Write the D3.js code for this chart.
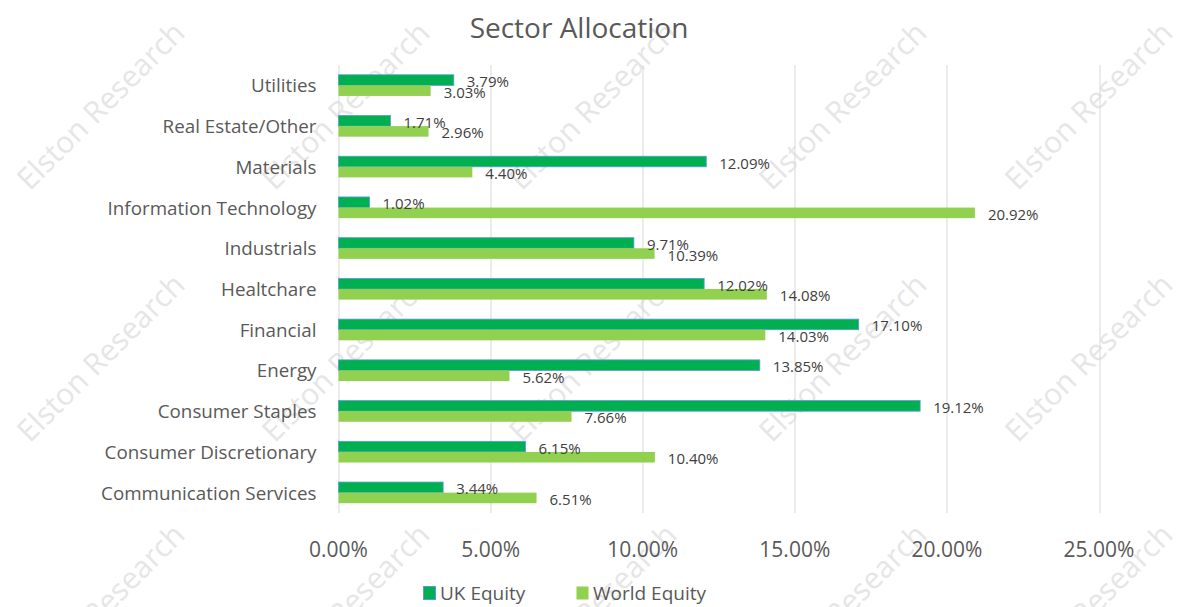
<!DOCTYPE html>
<html>
<head>
<meta charset="utf-8">
<script src="https://cdn.jsdelivr.net/npm/d3@7"></script>
<style>
  html, body { margin: 0; padding: 0; background: #fff; }
  svg { display: block; font-family: "Open Sans", "Noto Sans", sans-serif; }
</style>
</head>
<body>
<svg id="chart" width="1182" height="607"></svg>
<script>
// --- Data (top to bottom as shown) ---
const sectors = [
  "Utilities", "Real Estate/Other", "Materials", "Information Technology",
  "Industrials", "Healtchare", "Financial", "Energy", "Consumer Staples",
  "Consumer Discretionary", "Communication Services"
];
const ukEquity    = [3.79, 1.71, 12.09, 1.02, 9.71, 12.02, 17.10, 13.85, 19.12, 6.15, 3.44];
const worldEquity = [3.03, 2.96, 4.40, 20.92, 10.39, 14.08, 14.03, 5.62, 7.66, 10.40, 6.51];
const seriesNames = ["UK Equity", "World Equity"];
const xTicks = [0, 5, 10, 15, 20, 25];

const colors = { "UK Equity": "#00b050", "World Equity": "#92d050" };

const W = 1182, H = 607;
const margin = { top: 65, right: 83, bottom: 94, left: 338.5 };
const innerW = W - margin.left - margin.right;
const innerH = H - margin.top - margin.bottom;

const svg = d3.select("#chart");

// --- Watermark ---
const wmCols = [100, 345, 592, 842, 1088];
const wmRows = [105, 357, 607];
const wm = svg.append("g").attr("class", "watermark");
wmRows.forEach((cy) => {
  wmCols.forEach((cx) => {
    wm.append("text")
      .attr("transform", `translate(${cx},${cy}) rotate(-45)`)
      .attr("text-anchor", "middle")
      .attr("dominant-baseline", "central")
      .attr("font-size", "30px")
      .attr("fill", "#e6e6e6")
      .text("Elston Research");
  });
});

const g = svg.append("g").attr("transform", `translate(${margin.left},${margin.top})`);

const x = d3.scaleLinear().domain([0, 25]).range([0, innerW]);
const y = d3.scaleBand().domain(sectors).range([0, innerH]).paddingInner(0.48).paddingOuter(0.24);
const ySub = d3.scaleBand().domain(seriesNames).range([0, y.bandwidth()]);

// gridlines
g.append("g")
  .selectAll("line")
  .data(xTicks)
  .join("line")
  .attr("x1", (d) => Math.round(x(d)) + 0.5)
  .attr("x2", (d) => Math.round(x(d)) + 0.5)
  .attr("y1", 0)
  .attr("y2", innerH)
  .attr("stroke", "#d9d9d9")
  .attr("stroke-width", 1);

// x tick labels
g.append("g")
  .selectAll("text")
  .data(xTicks)
  .join("text")
  .attr("x", (d) => x(d))
  .attr("y", innerH + 36)
  .attr("text-anchor", "middle")
  .attr("dominant-baseline", "central")
  .attr("font-size", "21px")
  .attr("fill", "#595959")
  .text((d) => d.toFixed(2) + "%");

// category labels
g.append("g")
  .selectAll("text")
  .data(sectors)
  .join("text")
  .attr("x", -22)
  .attr("y", (d) => y(d) + y.bandwidth() / 2)
  .attr("text-anchor", "end")
  .attr("dominant-baseline", "central")
  .attr("font-size", "18.8px")
  .attr("fill", "#595959")
  .text((d) => d);

// bars
const rows = sectors.map((s, i) => ({ sector: s, values: [ukEquity[i], worldEquity[i]] }));
const groups = g.append("g")
  .selectAll("g")
  .data(rows)
  .join("g")
  .attr("transform", (d) => `translate(0,${y(d.sector)})`);

groups.selectAll("rect")
  .data((d) => d.values.map((v, j) => ({ series: seriesNames[j], value: v })))
  .join("rect")
  .attr("x", 0)
  .attr("y", (d) => ySub(d.series))
  .attr("width", (d) => x(d.value))
  .attr("height", ySub.bandwidth())
  .attr("fill", (d) => colors[d.series])
  .attr("stroke", (d) => d.series === "UK Equity" ? "#5b9bd5" : "none")
  .attr("stroke-width", 0.8);

groups.selectAll("text")
  .data((d) => d.values.map((v, j) => ({ series: seriesNames[j], value: v })))
  .join("text")
  .attr("x", (d) => x(d.value) + 13)
  .attr("y", (d) => ySub(d.series) + ySub.bandwidth() / 2 + 1)
  .attr("dominant-baseline", "central")
  .attr("font-size", "15px")
  .attr("fill", "#404040")
  .text((d) => d.value.toFixed(2) + "%");

// title
svg.append("text")
  .attr("x", 579)
  .attr("y", 27)
  .attr("text-anchor", "middle")
  .attr("dominant-baseline", "central")
  .attr("font-size", "28px")
  .attr("fill", "#595959")
  .text("Sector Allocation");

// legend
const legend = svg.append("g").attr("transform", "translate(423,593)");
const legendX = [0, 153];
seriesNames.forEach((name, i) => {
  const item = legend.append("g").attr("transform", `translate(${legendX[i]},0)`);
  item.append("rect")
    .attr("x", 0.5).attr("y", -6.5)
    .attr("width", 12).attr("height", 13)
    .attr("fill", colors[name])
    .attr("stroke", name === "UK Equity" ? "#5b9bd5" : "none")
    .attr("stroke-width", 1);
  item.append("text")
    .attr("x", 17)
    .attr("y", 0)
    .attr("dominant-baseline", "central")
    .attr("font-size", "19px")
    .attr("fill", "#595959")
    .text(name);
});
</script>
</body>
</html>
